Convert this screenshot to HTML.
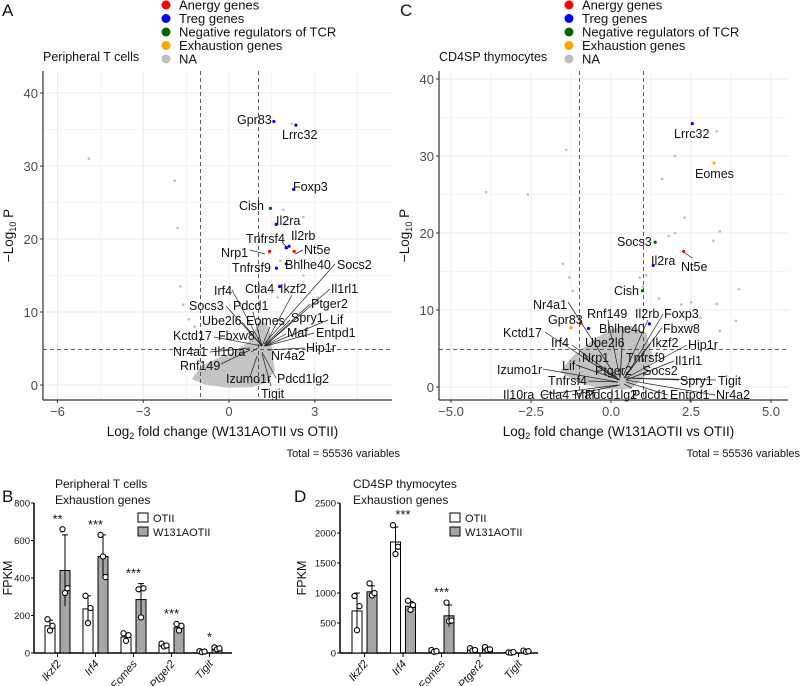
<!DOCTYPE html>
<html><head><meta charset="utf-8"><style>
body{margin:0;background:#fff}
svg{display:block;font-family:"Liberation Sans",Arial,sans-serif}
</style></head><body>
<svg id="fig" width="800" height="686" viewBox="0 0 800 686" xmlns="http://www.w3.org/2000/svg">
<g id="root"></g>
</svg>
<script>
// ---------------- DATA ----------------
const legendNames = ["Anergy genes","Treg genes","Negative regulators of TCR","Exhaustion genes","NA"];
const legendColors = ["#ff0000","#0000ff","#006400","#ffa500","#bebebe"];
// Panel A labelled genes: name, log2FC, -log10P, colour index
const aGenes = ["Gpr83","Lrrc32","Foxp3","Cish","Il2ra","Il2rb","Nt5e","Nrp1","Tnfrsf9","Bhlhe40","Ctla4","Tnfrsf4"];
const aFC =    [1.57,2.34,2.26,1.45,1.65,2.1,2.28,1.42,1.66,2.0,1.77,2.0];
const aP =     [36.1,35.6,26.8,24.2,22.0,19.0,18.3,18.3,16.0,16.6,13.5,18.8];
const aCol =   [1,1,1,2,1,1,0,0,1,2,1,1];
const aGrayFC = [-4.9,-1.9,-1.8,-1.7,-1.6,2.2,1.9,2.6,2.0,1.4,2.5,2.6,1.8,3.1,1.7,2.3,-1.4,-1.2];
const aGrayP =  [31,28,21.5,13.5,11,35.8,24,23,22,18,17,15,17,12,12,20,9,8];
// Panel C
const cGenes = ["Lrrc32","Eomes","Socs3","Il2ra","Nt5e","Cish","Gpr83","Kctd17","Il2rb","Rnf149"];
const cFC =    [2.54,3.22,1.38,1.32,2.27,0.98,-0.95,-1.25,1.2,-0.7];
const cP =     [34.2,29.1,18.8,15.8,17.6,12.5,8.3,7.7,8.2,7.6];
const cCol =   [1,3,2,1,0,2,0,3,1,1];
const cGrayFC = [-3.9,-2.6,-1.4,1.6,2.0,3.3,2.3,3.4,2.0,1.8,3.2,4.0,3.9,-1.5,-1.3,-1.2,1.1,3.3,2.8,2.5,1.5,1.0,0.9,3.4,2.2];
const cGrayP =  [25.3,25,30.8,27,30,33.2,22,20.2,20,19.6,19,12.7,8.6,16,14.2,12.5,14.5,10.8,9,11,11.5,13,14.2,7.3,10.7];
// Panel B
const barGenes = ["Ikzf2","Irf4","Eomes","Ptger2","Tigit"];
const bOTII = [145,235,85,40,8];
const bW = [440,515,285,135,22];
const bOTIIsd = [30,70,20,8,3];
const bWsd = [190,115,85,18,6];
const bOTIIpts = [[180,120,145],[305,160,240],[105,65,95],[50,35,40],[10,5,8]];
const bWpts = [[660,320,345],[630,515,405],[340,190,345],[155,120,145],[30,20,25]];
const bStars = ["**","***","***","***","*"];
const bTicks = [0,200,400,600,800];
// Panel D
const dOTII = [700,1850,30,50,10];
const dW = [1020,780,620,70,30];
const dOTIIsd = [300,250,15,20,5];
const dWsd = [100,80,180,25,10];
const dOTIIpts = [[950,380,780],[2130,1650,1770],[50,20,30],[80,40,50],[10,5,15]];
const dWpts = [[1160,960,1000],[870,720,800],[840,530,540],[100,50,60],[40,20,30]];
const dStars = ["","***","***","",""];
const dTicks = [0,500,1000,1500,2000,2500];

// ---------------- HELPERS ----------------
const NS="http://www.w3.org/2000/svg";
const root=document.getElementById('root');
function mk(tag,attrs,parent,text){const e=document.createElementNS(NS,tag);for(const k in attrs)e.setAttribute(k,attrs[k]);if(text!==undefined)e.textContent=text;(parent||root).appendChild(e);return e;}

// ---------------- VOLCANO ----------------
function volcano(o){
  const g=mk('g',{});
  
  
  const X=v=>o.x0+(v-o.xv0)*o.xs, Y=v=>o.y0-v*o.ys;
  for(let k=0;k<=Math.round((o.xmax-o.xmin)/(o.xstep/2));k++){const v=o.xmin+k*o.xstep/2;mk('line',{x1:X(v),x2:X(v),y1:o.top,y2:o.bottom,stroke:'#ebebeb','stroke-width':k%2===0?1:0.6},g);}
  for(let v=0;v<=40;v+=5){mk('line',{x1:o.left,x2:o.right,y1:Y(v),y2:Y(v),stroke:'#ebebeb','stroke-width':v%10===0?1:0.6},g);}
  const cl=mk('path',{d:o.cloud.map((p,i)=>(i?'L':'M')+X(p[0])+','+Y(p[1])).join('')+'Z',fill:'#c4c4c4'},g);
  
  
  o.gx.forEach((v,i)=>{const c=mk('circle',{cx:X(v),cy:Y(o.gy[i]),r:1.3,fill:'#bebebe'},g);
    
    });
  const dx1=Math.round(X(-1))+0.5, dx2=Math.round(X(1))+0.5, dy=Math.round(Y(5))+0.5;
  mk('line',{x1:dx1,x2:dx1,y1:o.top,y2:o.bottom,stroke:'#333','stroke-dasharray':'4,3','stroke-width':0.8},g);
  mk('line',{x1:dx2,x2:dx2,y1:o.top,y2:o.bottom,stroke:'#333','stroke-dasharray':'4,3','stroke-width':0.8},g);
  mk('line',{x1:o.left,x2:o.right,y1:dy,y2:dy,stroke:'#333','stroke-dasharray':'4,3','stroke-width':0.8},g);
  o.labels.forEach(l=>{ if(l[3]){mk('line',{x1:l[3][0],y1:l[3][1],x2:l[3][2],y2:l[3][3],stroke:'#222','stroke-width':0.7},g);}});
  o.genes.forEach((n,i)=>{const c=mk('circle',{cx:X(o.fc[i]),cy:Y(o.p[i]),r:1.6,fill:legendColors[o.col[i]]},g);
    
    });
  o.labels.forEach(l=>{const t=mk('text',{x:l[1],y:l[2],'font-size':12.5,fill:'#111'},g,l[0]);
    
    });
  mk('line',{x1:o.left,x2:o.left,y1:o.top,y2:o.bottom,stroke:'#333','stroke-width':1.2},g);
  mk('line',{x1:o.left,x2:o.right,y1:o.bottom,y2:o.bottom,stroke:'#333','stroke-width':1.2},g);
  o.xticks.forEach(v=>{mk('line',{x1:X(v),x2:X(v),y1:o.bottom,y2:o.bottom+3,stroke:'#333'},g);
    const t=mk('text',{x:X(v),y:o.bottom+16,'font-size':13,fill:'#4d4d4d','text-anchor':'middle'},g,v<0?'\u2212'+(-v).toFixed(o.dec):v.toFixed(o.dec));
    
    });
  [0,10,20,30,40].forEach(v=>{mk('line',{x1:o.left-3,x2:o.left,y1:Y(v),y2:Y(v),stroke:'#333'},g);
    const t=mk('text',{x:o.left-5,y:Y(v)+5,'font-size':13,fill:'#4d4d4d','text-anchor':'end'},g,String(v));
    
    });
  const xt=mk('text',{x:(o.left+o.right)/2+5,y:436,'font-size':13.5,fill:'#111','text-anchor':'middle'},g);
  xt.innerHTML='Log<tspan font-size="9" dy="3">2</tspan><tspan dy="-3"> fold change  (W131AOTII vs OTII)</tspan>';
  
  
  const yt=mk('text',{transform:`translate(${o.left-30},${(o.top+o.bottom)/2}) rotate(-90)`,'font-size':13.5,fill:'#111','text-anchor':'middle'},g);
  yt.innerHTML='\u2212Log<tspan font-size="9" dy="3">10</tspan><tspan dy="-3"> P</tspan>';
  
  
  const tt=mk('text',{x:o.left+0,y:61,'font-size':12.5,fill:'#111'},g,o.title);
  
  
  const tot=mk('text',{x:o.totX,y:457,'font-size':11,fill:'#111','text-anchor':'end'},g,'Total = 55536 variables');
  
  
  legendNames.forEach((n,i)=>{const yy=5+i*13.5;
    mk('circle',{cx:o.legX,cy:yy,r:4.5,fill:legendColors[i]},g);
    const t=mk('text',{x:o.legX+13,y:yy+4.5,'font-size':13,fill:'#111'},g,n);
    
    });
  const L=mk('text',{x:o.letterX,y:16,'font-size':17,fill:'#111'},g,o.letter);
  
  
}

volcano({name:'volcano-peripheral',x0:229,xv0:0,xs:28.6,y0:385,ys:7.3,left:43,right:392,top:71,bottom:400,xmin:-6,xmax:4.5,xstep:3,dec:0,
 xticks:[-6,-3,0,3],cloud:[[-1.3,0.8],[-1,2.5],[-0.5,3.5],[0.2,4.5],[0.7,6],[1.1,9],[1.4,8],[1.5,5],[1.6,2],[1.3,0.3],[0.8,-0.3],[0,-0.4],[-0.8,0]],
 gx:aGrayFC,gy:aGrayP,genes:aGenes,fc:aFC,p:aP,col:aCol,title:'Peripheral T cells',totX:400,legX:166,letter:'A',letterX:2,
 labels:[["Gpr83",237,124],["Lrrc32",282,139],["Foxp3",293,191],["Cish",239,210],["Il2ra",276,225],["Tnfrsf4",246,243,[283,243,288,249]],["Il2rb",291,240],["Nt5e",304,254,[303,250,295,254]],["Nrp1",221,257,[250,250,265,254]],["Tnfrsf9",232,272],["Bhlhe40",285,269],["Socs2",337,269,[335,264,264,344]],["Il1rl1",331,293,[330,289,266,345]],["Irf4",214,295,[232,290,262,346]],["Ctla4",245,293],["Ikzf2",280,293,[292,295,265,345]],["Ptger2",311,308,[310,304,265,346]],["Socs3",189,310,[226,306,262,346]],["Pdcd1",233,310,[253,312,262,346]],["Ube2l6",202,325,[242,322,262,346]],["Eomes",246,325,[270,327,262,346]],["Spry1",291,322,[290,320,264,346]],["Lif",330,324,[328,320,265,346]],["Kctd17",173,340,[214,337,262,346]],["Fbxw8",218,340,[258,338,262,346]],["Maf",287,337,[286,334,264,346]],["Entpd1",316,337,[314,333,266,346]],["Nr4a1",173,356,[210,352,250,348]],["Il10ra",214,356,[251,352,258,348]],["Nr4a2",271,360],["Hip1r",306,352,[305,348,268,350]],["Rnf149",180,370,[221,364,250,350]],["Izumo1r",226,383,[250,377,257,356]],["Pdcd1lg2",277,383,[276,378,262,352]],["Tigit",261,398,[271,386,262,354]]]});
volcano({name:'volcano-thymocytes',x0:611,xv0:0,xs:32,y0:387,ys:7.7,left:439,right:788,top:71,bottom:400,xmin:-5,xmax:5,xstep:2.5,dec:1,
 xticks:[-5,-2.5,0,2.5,5],cloud:[[-1.6,2],[-1.2,4],[-0.6,6],[0,7.5],[0.6,8],[1.1,7],[1.3,4],[1.1,1.5],[0.6,-0.3],[-0.2,-0.3],[-1,0.5]],
 gx:cGrayFC,gy:cGrayP,genes:cGenes,fc:cFC,p:cP,col:cCol,title:'CD4SP thymocytes',totX:800,legX:569,letter:'C',letterX:400,
 labels:[["Lrrc32",674,138],["Eomes",695,178],["Socs3",617,246],["Il2ra",651,265],["Nt5e",681,271,[684,252,692,258]],["Cish",614,295],["Nr4a1",533,309,[568,302,618,380]],["Rnf149",587,318,[608,320,620,378]],["Il2rb",635,318,[648,320,623,376]],["Foxp3",664,318,[663,314,625,378]],["Gpr83",548,324],["Bhlhe40",599,333,[623,330,620,378]],["Fbxw8",663,333,[662,328,624,378]],["Kctd17",503,337,[545,332,618,380]],["Irf4",551,347,[572,345,620,380]],["Ube2l6",585,347,[622,349,620,378]],["Ikzf2",652,347,[651,343,624,378]],["Hip1r",688,349,[687,345,626,378]],["Nrp1",582,362,[584,358,620,380]],["Tnfrsf9",626,362],["Lif",562,370,[576,365,620,380]],["Il1rl1",675,365,[674,361,626,380]],["Izumo1r",497,374,[543,369,618,382]],["Ptger2",595,375],["Socs2",643,375],["Tnfrsf4",548,385,[588,381,618,382]],["Spry1",680,385,[679,380,626,378]],["Tigit",718,385,[716,380,626,378]],["Il10ra",503,399,[542,395,618,385]],["Ctla4",540,399,[572,395,620,385]],["Maf",574,399],["Pdcd1lg2",585,399],["Pdcd1",632,399,[632,388,624,384]],["Entpd1",670,399,[668,395,626,382]],["Nr4a2",716,399,[715,395,626,380]]]});

// ---------------- BAR CHARTS ----------------
function bars(o){
  const g=mk('g',{});
  
  
  const Y=v=>653-v*150/o.max;
  const cx=i=>o.c0+i*o.sp;
  mk('line',{x1:o.axX,x2:o.axX,y1:503,y2:653,stroke:'#000','stroke-width':1.5},g);
  mk('line',{x1:o.axX,x2:o.axEnd,y1:653,y2:653,stroke:'#000','stroke-width':1.5},g);
  o.ticks.forEach(v=>{mk('line',{x1:o.axX-3,x2:o.axX,y1:Y(v),y2:Y(v),stroke:'#000'},g);
    const t=mk('text',{x:o.axX-4,y:Y(v)+3.5,'font-size':9.5,fill:'#111','text-anchor':'end'},g,String(v));
    
    });
  barGenes.forEach((n,i)=>{
    mk('line',{x1:cx(i),x2:cx(i),y1:653,y2:657,stroke:'#000'},g);
    const t=mk('text',{transform:`translate(${cx(i)+4},${664}) rotate(-50)`,'font-size':11,'font-style':'italic',fill:'#111','text-anchor':'end'},g,n);
    
    
    [[o.O,o.Osd,o.Opts,'#fff',-7.5,'otii'],[o.W,o.Wsd,o.Wpts,'#a6a6a6',7.5,'w131aotii']].forEach(s=>{
      const x=cx(i)+s[4], v=s[0][i], sd=s[1][i];
      const r=mk('rect',{x:x-5,y:Y(v),width:10,height:653-Y(v),fill:s[3],stroke:'#000','stroke-width':1},g);
      
      
      mk('line',{x1:x,x2:x,y1:Y(v+sd),y2:Y(Math.max(0,v-sd)),stroke:'#000'},g);
      mk('line',{x1:x-3,x2:x+3,y1:Y(v+sd),y2:Y(v+sd),stroke:'#000'},g);
      s[2][i].forEach((p,k)=>{const c=mk('circle',{cx:x+(k-1)*2.5,cy:Y(p),r:2.6,fill:'#fff',stroke:'#000','stroke-width':1.1},g);
        
        });
    });
    if(o.stars[i]){const top=Math.max(...o.Wpts[i],o.W[i]+o.Wsd[i],...o.Opts[i],o.O[i]+o.Osd[i]);
      const st=mk('text',{x:cx(i),y:Y(top)-6,'font-size':13,fill:'#111','text-anchor':'middle'},g,o.stars[i]);
      
      }
  });
  const yt=mk('text',{transform:`translate(${o.ylabX},578) rotate(-90)`,'font-size':12.5,fill:'#111','text-anchor':'middle'},g,'FPKM');
  
  
  const t1=mk('text',{x:o.tx,y:488,'font-size':12,fill:'#111'},g,o.title);
  
  
  const t2=mk('text',{x:o.tx,y:504,'font-size':12,fill:'#111'},g,'Exhaustion genes');
  
  
  [['OTII','#fff',518],['W131AOTII','#a6a6a6',532]].forEach(l=>{
    mk('rect',{x:o.legX,y:l[2]-5,width:10,height:9,fill:l[1],stroke:'#000'},g);
    const t=mk('text',{x:o.legX+15,y:l[2]+4,'font-size':11,fill:'#111'},g,l[0]);
    
    });
  const L=mk('text',{x:o.letterX,y:502,'font-size':17,fill:'#111'},g,o.letter);
  
  
}
bars({name:'bar-chart-peripheral',max:800,ticks:bTicks,axX:34,axEnd:232,c0:57.5,sp:38,O:bOTII,W:bW,Osd:bOTIIsd,Wsd:bWsd,Opts:bOTIIpts,Wpts:bWpts,stars:bStars,tx:55,title:'Peripheral T cells',legX:138,letter:'B',letterX:2,ylabX:12});
bars({name:'bar-chart-thymocytes',max:2500,ticks:dTicks,axX:340,axEnd:538,c0:364.5,sp:38.5,O:dOTII,W:dW,Osd:dOTIIsd,Wsd:dWsd,Opts:dOTIIpts,Wpts:dWpts,stars:dStars,tx:353,title:'CD4SP thymocytes',legX:450,letter:'D',letterX:294,ylabX:306});
</script>
</body></html>
